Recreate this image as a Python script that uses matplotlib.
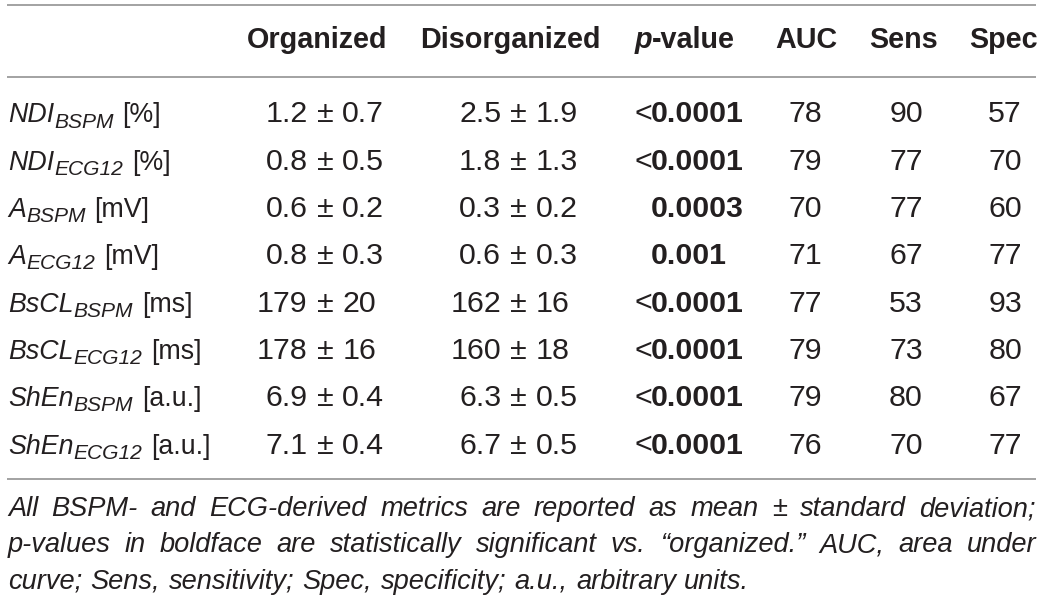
import matplotlib
matplotlib.use("Agg")
import matplotlib.pyplot as plt

# ---------------- data ----------------
col_headers = ["Organized", "Disorganized", "p-value", "AUC", "Sens", "Spec"]
metric_names = ["NDI", "NDI", "A", "A", "BsCL", "BsCL", "ShEn", "ShEn"]
metric_subs = ["BSPM", "ECG12", "BSPM", "ECG12", "BSPM", "ECG12", "BSPM", "ECG12"]
metric_units = ["[%]", "[%]", "[mV]", "[mV]", "[ms]", "[ms]", "[a.u.]", "[a.u.]"]
org_mean = ["1.2", "0.8", "0.6", "0.8", "179", "178", "6.9", "7.1"]
org_sd = ["0.7", "0.5", "0.2", "0.3", "20", "16", "0.4", "0.4"]
dis_mean = ["2.5", "1.8", "0.3", "0.6", "162", "160", "6.3", "6.7"]
dis_sd = ["1.9", "1.3", "0.2", "0.3", "16", "18", "0.5", "0.5"]
p_values = ["<0.0001", "<0.0001", "0.0003", "0.001", "<0.0001", "<0.0001", "<0.0001", "<0.0001"]
auc = ["78", "79", "70", "71", "77", "79", "79", "76"]
sens = ["90", "77", "77", "67", "53", "73", "80", "70"]
spec = ["57", "70", "60", "77", "93", "80", "67", "77"]
footnote_lines = [
    "All BSPM- and ECG-derived metrics are reported as mean \u00b1 standard deviation;",
    "p-values in boldface are statistically significant vs. \u201corganized.\u201d AUC, area under",
    "curve; Sens, sensitivity; Spec, specificity; a.u., arbitrary units.",
]

# ---------------- style ----------------
W, H = 1043, 602
FONT = "Liberation Sans"
TXT = "#231f20"
RULE = "#9b9b9b"
PT = 0.72  # px -> pt at 100 dpi
body_fs = 30.4 * PT
label_fs = 26.8 * PT
sub_fs = 21.0 * PT
head_fs = 28.7 * PT
foot_fs = 27.3 * PT

fig = plt.figure(figsize=(W / 100, H / 100), dpi=100)
ax = fig.add_axes([0, 0, 1, 1])
ax.set_xlim(0, W)
ax.set_ylim(H, 0)
ax.axis("off")
renderer = fig.canvas.get_renderer()


def txt(x, y, s, size, ha="left", weight="normal", style="normal", va="baseline"):
    return ax.text(x, y, s, fontsize=size, ha=ha, va=va, family=FONT,
                   fontweight=weight, fontstyle=style, color=TXT)


def width(t):
    return t.get_window_extent(renderer).width


# rules
x0, x1 = 7, 1036
for yy in (5, 77, 479):
    ax.plot([x0, x1], [yy, yy], color=RULE, lw=1.3, solid_capstyle="butt")

# header
head_y = 47.5
txt(317.5, head_y, col_headers[0], head_fs, ha="center", weight="bold")
txt(510.5, head_y, col_headers[1], head_fs, ha="center", weight="bold")
# p-value header: italic p + bold "-value"
tp = txt(0, head_y, "p", head_fs, weight="bold", style="italic")
tv = txt(0, head_y, "-value", head_fs, weight="bold")
wp, wv = width(tp), width(tv)
start = 685 - (wp + wv) / 2
tp.set_x(start)
tv.set_x(start + wp)
txt(806, head_y, col_headers[3], head_fs, ha="center", weight="bold")
txt(903.5, head_y, col_headers[4], head_fs, ha="center", weight="bold")
txt(1003.5, head_y, col_headers[5], head_fs, ha="center", weight="bold")

# rows
row0, dy = 122.5, 47.3
pm_half = 0.584 * 30.4 / 2
gap = 0.278 * 30.4
for i in range(len(metric_names)):
    y = row0 + i * dy
    # label
    tm = txt(8, y, metric_names[i], label_fs, style="italic")
    wm = width(tm)
    ts = txt(8 + wm, y + 5, metric_subs[i], sub_fs, style="italic")
    ws = width(ts)
    txt(8 + wm + ws + 9, y, metric_units[i], label_fs)
    # organized / disorganized, aligned on the plus-minus sign
    for cx, m, s in ((325, org_mean[i], org_sd[i]), (518.5, dis_mean[i], dis_sd[i])):
        txt(cx - pm_half - gap, y, m, body_fs, ha="right")
        txt(cx, y, "\u00b1", body_fs, ha="center")
        txt(cx + pm_half + gap, y, s, body_fs, ha="left")
    # p-value (bold digits, regular "<")
    pv = p_values[i]
    if pv.startswith("<"):
        txt(652, y, "<", body_fs, ha="right")
        pv = pv[1:]
    txt(651, y, pv, body_fs, ha="left", weight="bold")
    txt(805, y, auc[i], body_fs, ha="center")
    txt(906, y, sens[i], body_fs, ha="center")
    txt(1005, y, spec[i], body_fs, ha="center")

# footnote (justified lines 1-2, left line 3)
foot_y = [516, 552.5, 589]
fx0, fx1 = 8, 1036
for li, line in enumerate(footnote_lines):
    words = line.split(" ")
    ts_ = [txt(0, foot_y[li], w, foot_fs, style="italic") for w in words]
    ws_ = [width(t) for t in ts_]
    if li < 2:
        g = (fx1 - fx0 - sum(ws_)) / (len(words) - 1)
    else:
        g = 0.278 * 27.3 * 1.1
    x = fx0
    for t, w in zip(ts_, ws_):
        t.set_x(x)
        x += w + g

fig.savefig("out.png", dpi=100, facecolor="white")
